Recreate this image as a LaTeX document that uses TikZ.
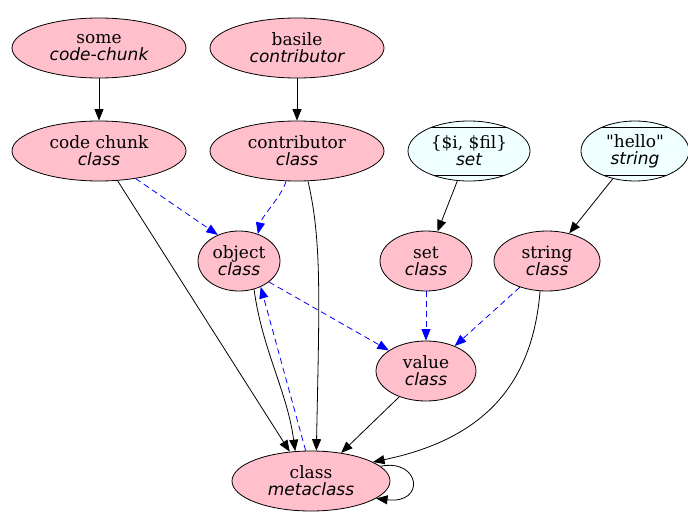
\documentclass[tikz,border=0pt]{standalone}
\usepackage{fontspec}
\setmainfont{DejaVu Serif}
\newfontfamily\oblfont{DejaVu Sans}
\newfontfamily\rawserif{DejaVu Serif}
\usetikzlibrary{shapes.geometric,arrows.meta}
\definecolor{pinkfill}{HTML}{FFC0CB}
\definecolor{azurefill}{HTML}{F0FFFF}
\newcommand{\kind}[1]{{\oblfont\itshape #1}}
\newcommand{\dq}{{\rawserif"}}

\begin{document}
\begin{tikzpicture}[x=1pt,y=-1pt,
  every node/.style={font=\fontsize{17}{17}\selectfont},
  obj/.style={ellipse, draw, line width=0.8pt, fill=pinkfill, inner sep=0pt,
    minimum height=60pt, align=center},
  lit/.style={obj, fill=azurefill,
    path picture={
      \draw[line width=0.8pt]
        ([yshift=-6pt]path picture bounding box.north west) --
        ([yshift=-6pt]path picture bounding box.north east);
      \draw[line width=0.8pt]
        ([yshift=6pt]path picture bounding box.south west) --
        ([yshift=6pt]path picture bounding box.south east);
    }},
  link/.style={-{Triangle[length=11.5pt,width=9pt]}, line width=0.8pt},
  weak/.style={link, blue, dash pattern=on 6pt off 4pt}
]
\useasboundingbox (0,0) rectangle (688,514);

% instances
\node[obj, minimum width=174pt] (some)    at (99,48)   {some\\\kind{code-chunk}};
\node[obj, minimum width=174pt] (basile)  at (297,48)  {basile\\\kind{contributor}};
\node[lit, minimum width=122pt] (setval)  at (469,151) {\{\$i, \$fil\}\\\kind{set}};
\node[lit, minimum width=108pt] (hello)   at (635,151) {\dq hello\dq\\\kind{string}};

% classes
\node[obj, minimum width=174pt] (chunk)   at (99,151)  {code chunk\\\kind{class}};
\node[obj, minimum width=174pt] (contrib) at (297,151) {contributor\\\kind{class}};
\node[obj, minimum width=82pt]  (object)  at (239,261) {object\\\kind{class}};
\node[obj, minimum width=92pt]  (setcls)  at (426,261) {set\\\kind{class}};
\node[obj, minimum width=106pt] (strcls)  at (547,261) {string\\\kind{class}};
\node[obj, minimum width=100pt] (value)   at (426,371) {value\\\kind{class}};
\node[obj, minimum width=158pt] (meta)    at (311,481) {class\\\kind{metaclass}};

% instance-of links
\draw[link] (some) -- (chunk);
\draw[link] (basile) -- (contrib);
\draw[link] (setval) -- (setcls);
\draw[link] (hello) -- (strcls);

% inheritance links
\draw[weak] (chunk.-37) -- (object.129);
\draw[weak] (contrib.-110) .. controls +(-4,15) and +(4,-18) .. (object.55);
\draw[weak] (object.-35) -- (value.151);
\draw[weak] (setcls) -- (value);
\draw[weak] (strcls.-136) -- (value.41);
\draw[weak] (meta.100) -- (object.-50);

% metaclass links
\draw[link] (chunk.-58) -- (meta.126);
\draw[link] (contrib.-70) .. controls +(14,60) and +(3,-150) .. (meta.80);
\draw[link] (object.-62) .. controls +(8,60) and +(-8,-60) .. (meta.118);
\draw[link] (value.-136) -- (meta.43);
\draw[link] (strcls.-103) .. controls +(-8,99) and +(105,-22) .. (meta.17);
\draw[link] (meta.12) .. controls +(40,-8) and +(50,6) .. (meta.-15);
\end{tikzpicture}
\end{document}
